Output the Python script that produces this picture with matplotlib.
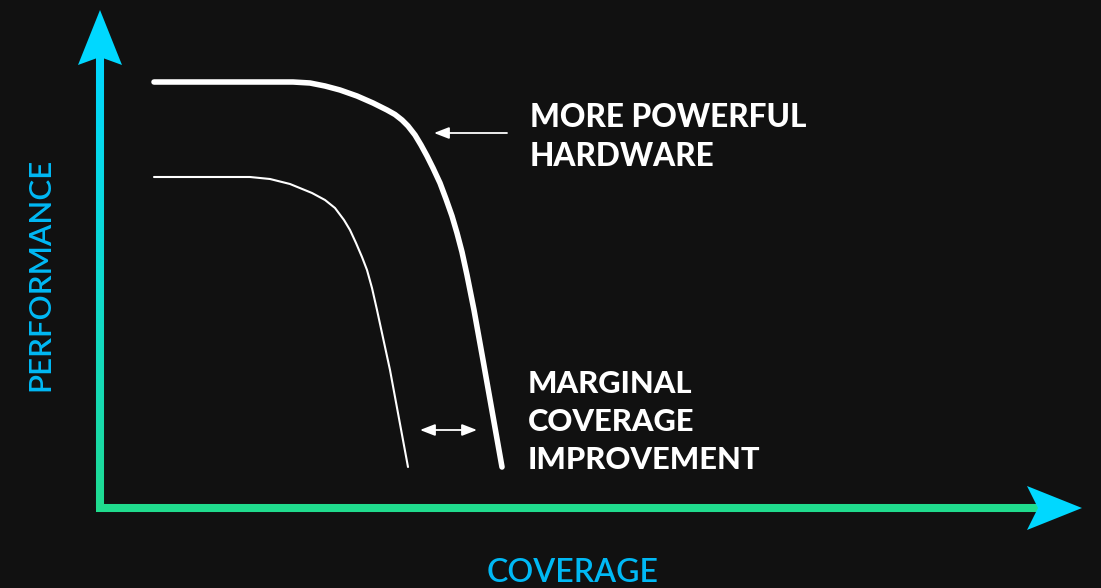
import numpy as np
import matplotlib
matplotlib.use("Agg")
import matplotlib.pyplot as plt
from matplotlib.collections import LineCollection
from matplotlib.colors import LinearSegmentedColormap

# ---- data (coverage, performance) ----
powerful_cov = [54, 193, 210, 225, 240, 257, 273, 287, 295, 302, 308, 315, 321, 327, 333, 340, 346, 352, 357,
                362, 367, 374, 383, 402]
powerful_perf = [426, 426, 425, 422, 418, 412, 405, 398, 393.5, 388, 382, 373, 363, 352, 340, 325, 309, 292, 275,
                 256, 233, 198, 148, 41]

base_cov = [54, 150, 170, 190, 212, 225, 235, 244, 250, 256, 262, 267, 272, 277, 290, 308]
base_perf = [331, 331, 329, 324, 315, 308, 300, 288, 278, 265, 251, 238, 220, 198, 138, 41]

labels = {
    "x": "COVERAGE",
    "y": "PERFORMANCE",
    "hw": "MORE POWERFUL\nHARDWARE",
    "mc": "MARGINAL\nCOVERAGE\nIMPROVEMENT",
}

BG = "#111111"
CYAN = "#00d8ff"
GREEN = "#20dc8e"
LABEL_BLUE = "#00b9f5"

fig = plt.figure(figsize=(11.01, 5.88), dpi=100, facecolor=BG)
ax = fig.add_axes([0, 0, 1, 1])
ax.set_facecolor(BG)
ax.set_xlim(-100, 1001)
ax.set_ylim(-80, 508)
ax.axis("off")

# vertical axis with gradient (green at bottom -> cyan at top)
cmap = LinearSegmentedColormap.from_list("g", [GREEN, CYAN])
ys = np.linspace(0, 451, 200)
segs = [[(0, ys[i]), (0, ys[i + 1])] for i in range(len(ys) - 1)]
lc = LineCollection(segs, colors=cmap(np.linspace(0, 1, len(segs)) ** 0.8), linewidths=5.8, capstyle="butt")
ax.add_collection(lc)
ax.fill([0, -22, 0, 22], [498, 443, 451, 443], color=CYAN, lw=0, zorder=3)

# horizontal axis (green) with cyan head
ax.plot([-4, 938], [0, 0], color=GREEN, lw=5.8, solid_capstyle="butt", zorder=2)
ax.fill([982, 927, 938, 927], [0, 22, 0, -22], color=CYAN, lw=0, zorder=3)

# curves
ax.plot(powerful_cov, powerful_perf, color="white", lw=4.0, solid_capstyle="round", solid_joinstyle="round", zorder=4)
ax.plot(base_cov, base_perf, color="white", lw=1.5, solid_capstyle="round", solid_joinstyle="round", zorder=4)

# annotation arrows
ax.annotate("", xy=(334, 375), xytext=(407, 375),
            arrowprops=dict(arrowstyle="-|>,head_length=0.9,head_width=0.35", color="white", lw=1.3,
                            shrinkA=0, shrinkB=0))
ax.annotate("", xy=(320, 78), xytext=(377, 78),
            arrowprops=dict(arrowstyle="<|-|>,head_length=0.9,head_width=0.35", color="white", lw=1.3,
                            shrinkA=0, shrinkB=0))

font = ["Lato", "DejaVu Sans"]
ax.text(430, 371, labels["hw"], color="white", fontsize=22.7, fontweight="black", family=font,
        ha="left", va="center", linespacing=1.42)
ax.text(428, 86, labels["mc"], color="white", fontsize=22.2, fontweight="black", family=font,
        ha="left", va="center", linespacing=1.42)
ax.text(473, -65, labels["x"], color=LABEL_BLUE, fontsize=23, fontweight="semibold", family=font,
        ha="center", va="center")
ax.text(-60, 234, labels["y"], color=LABEL_BLUE, fontsize=22.5, fontweight="semibold", family=font,
        ha="center", va="center", rotation=90)

fig.savefig("out.png", dpi=100, facecolor=BG)
